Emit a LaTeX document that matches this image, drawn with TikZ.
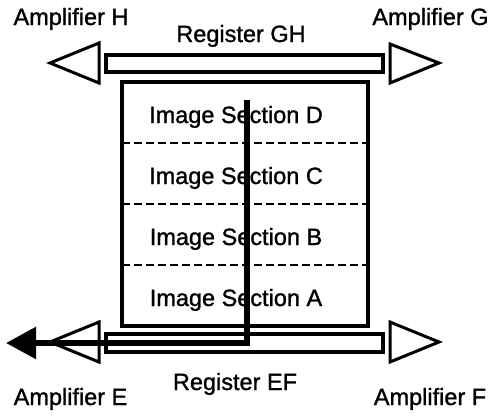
\documentclass[tikz,border=0pt]{standalone}
\usepackage{fontspec}
\setmainfont{Liberation Sans}
\newfontfamily\lblfont{Liberation Sans}[FakeBold=1.2]
\usetikzlibrary{arrows.meta}
\begin{document}
\begin{tikzpicture}[x=1pt,y=-1pt,
  lbl/.style={anchor=base, inner sep=0pt, font=\lblfont\fontsize{23.5}{27}\selectfont},
  tri/.style={draw=black, line width=3pt, line join=miter, fill=white},
  reg/.style={draw=black, line width=3.2pt},
  sepline/.style={draw=black, line width=2.8pt, dash pattern=on 8pt off 4pt},
  flow/.style={draw=black, line width=5.5pt, -{Triangle[length=30pt,width=31pt]}}]
\useasboundingbox (0,0) rectangle (489,415);
% amplifiers (triangles)
\draw[tri] (99,43) coordinate (ampH) -- (99,83) -- (50,63) -- cycle;
\draw[tri] (390,44) coordinate (ampG) -- (390,83) -- (439,63) -- cycle;
\draw[tri] (99,322) coordinate (ampE) -- (99,362) -- (50,342) -- cycle;
\draw[tri] (390,322) coordinate (ampF) -- (390,362) -- (439,342) -- cycle;
% registers
\draw[reg] (106,55) coordinate (regGHa) rectangle (383,72) coordinate (regGHb);
\draw[reg] (106,334) coordinate (regEFa) rectangle (383,352) coordinate (regEFb);
% image area
\draw[reg] (122,82) coordinate (imgTL) rectangle (368,326) coordinate (imgBR);
\draw[sepline] (122,143) -- (368,143);
\draw[sepline] (122,204) -- (368,204);
\draw[sepline] (122,265) -- (368,265);
% labels
\node[lbl] (tH) at (71,25) {Amplifier H};
\node[lbl] (tG) at (430.5,25) {Amplifier G};
\node[lbl] (tGH) at (241,42) {Register GH};
\node[lbl] (tE) at (70.5,405) {Amplifier E};
\node[lbl] (tEF) at (235,390) {Register EF};
\node[lbl] (tF) at (430,405) {Amplifier F};
\node[lbl] (sD) at (236,123) {Image Section D};
\node[lbl] (sC) at (236,184) {Image Section C};
\node[lbl] (sB) at (236,245) {Image Section B};
\node[lbl] (sA) at (236,306) {Image Section A};
% charge transfer path
\coordinate (pStart) at (247,100);
\coordinate (pCorner) at (247,343);
\coordinate (pEnd) at (6,343);
\draw[flow] (pStart) -- (pCorner) -- (pEnd);
\end{tikzpicture}
\end{document}
